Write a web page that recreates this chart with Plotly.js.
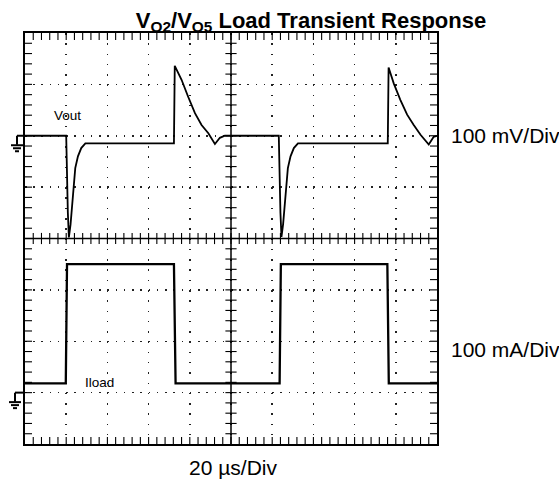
<!DOCTYPE html>
<html><head><meta charset="utf-8">
<script src="https://cdn.plot.ly/plotly-3.0.1.min.js"></script>
<style>html,body{margin:0;padding:0;background:#fff;}#chart{width:559px;height:483px;}</style>
</head><body><div id="chart"></div>
<script>
// ---- data (read from the scope capture) ----
const voutTime = [0, 20.0, 20.8, 21.3, 22.1, 23.3, 24.4, 25.7, 27.3, 29.3, 72.3, 72.7, 76.0, 79.2, 82.5, 85.7, 89.0, 92.2, 94.6, 97.0,
                  123.2, 124.0, 124.5, 125.3, 126.5, 127.6, 128.9, 130.5, 132.5, 176.1, 176.5, 179.0, 182.2, 185.5, 188.7, 192.0, 196.0, 198.4, 200];
const voutMv =   [0, 0, -150, -198, -173, -108, -63, -40, -24, -15, -15, 136, 109, 76, 44, 21, 5, -16, -4, 0,
                  0, -150, -197, -172, -108, -63, -40, -24, -15, -15, 133, 102, 70, 41, 21, 2, -17, -2, 0];
const iloadTime = [0, 19.8, 20.4, 72.3, 73.1, 123.6, 124.2, 175.9, 176.6, 200];
const iloadMa =   [18, 18, 250, 250, 18, 18, 250, 250, 18, 18];

const labels = {
  title: '<b>V<sub>O2</sub>/V<sub>O5</sub> Load Transient Response</b>',
  vout: 'Vout', iload: 'Iload',
  vScale: '100 mV/Div', iScale: '100 mA/Div', tScale: '20 \u00B5s/Div'
};

// ---- scope graticule settings ----
const usPerDiv = 20, mvPerDiv = 100, maPerDiv = 100;
const xDivs = 10, yDivs = 8, subDivs = 5;
const voutGroundDiv = 6, iloadGroundDiv = 1;   // ground marker positions (divisions from bottom)
const xRange = [0, xDivs * usPerDiv];
const vRange = [-voutGroundDiv * mvPerDiv, (yDivs - voutGroundDiv) * mvPerDiv];
const iRange = [-iloadGroundDiv * maPerDiv, (yDivs - iloadGroundDiv) * maPerDiv];

const FONT = 'Liberation Sans, Arial, Helvetica, sans-serif';
const ink = '#000';

// graticule tick marks (centre cross + inside border ticks)
const cx = (xRange[0] + xRange[1]) / 2, cy = (vRange[0] + vRange[1]) / 2;
const colX = [], colY = [], rowX = [], rowY = [];     // ticks along horizontal lines / vertical lines
const bX = [], bY = [], sX = [], sY = [];
for (let k = 1; k < xDivs * subDivs; k++) {
  const t = xRange[0] + k * usPerDiv / subDivs;
  colX.push(t); colY.push(cy);
  bX.push(t, t); bY.push(vRange[0], vRange[1]);
}
for (let k = 1; k < yDivs * subDivs; k++) {
  const v = vRange[0] + k * mvPerDiv / subDivs;
  rowY.push(v); rowX.push(cx);
  sX.push(xRange[0], xRange[1]); sY.push(v, v);
}
function tickTrace(x, y, sym, size) {
  return {x: x, y: y, mode: 'markers', cliponaxis: true,
    marker: {symbol: sym, size: size, color: ink, line: {width: 1.1, color: ink}},
    hoverinfo: 'skip', showlegend: false};
}

const traces = [
  tickTrace(colX, colY, 'line-ns', 8),
  tickTrace(rowX, rowY, 'line-ew', 8),
  tickTrace(bX, bY, 'line-ns', 10),
  tickTrace(sX, sY, 'line-ew', 10),
  {x: voutTime, y: voutMv, mode: 'lines', line: {color: ink, width: 1.8}, name: 'Vout', showlegend: false},
  {x: iloadTime, y: iloadMa, yaxis: 'y2', mode: 'lines', line: {color: ink, width: 2.3}, name: 'Iload', showlegend: false}
];

function ground(yPaper, dx) {
  const base = {type: 'line', xref: 'paper', yref: 'paper', xsizemode: 'pixel', ysizemode: 'pixel',
    xanchor: 0, yanchor: yPaper, line: {color: ink, width: 2}};
  return [
    Object.assign({}, base, {x0: dx, x1: 0, y0: 0, y1: 0}),
    Object.assign({}, base, {x0: dx, x1: dx, y0: 0, y1: -9}),
    Object.assign({}, base, {x0: dx - 6, x1: dx + 6, y0: -9.5, y1: -9.5}),
    Object.assign({}, base, {x0: dx - 4, x1: dx + 4, y0: -12.5, y1: -12.5}),
    Object.assign({}, base, {x0: dx - 2, x1: dx + 2, y0: -15.5, y1: -15.5})
  ];
}
const voutGroundPaper = voutGroundDiv / yDivs, iloadGroundPaper = iloadGroundDiv / yDivs;

const shapes = [
  {type: 'line', xref: 'x', yref: 'paper', x0: cx, x1: cx, y0: 0, y1: 1, line: {color: ink, width: 1.5}},
  {type: 'line', xref: 'paper', yref: 'paper', x0: 0, x1: 1, y0: 0.5, y1: 0.5, line: {color: ink, width: 1.5}}
].concat(ground(voutGroundPaper, -8), ground(iloadGroundPaper, -10));

const axisCommon = {
  showticklabels: false, zeroline: false, showline: true, linewidth: 2, linecolor: ink,
  mirror: true, ticks: '',
  showgrid: true, gridcolor: '#222', gridwidth: 1.5, fixedrange: true
};

const layout = {
  width: 559, height: 483,
  margin: {l: 25, r: 122, t: 33, b: 39},
  paper_bgcolor: '#fff', plot_bgcolor: '#fff',
  font: {family: FONT, color: ink},
  title: {text: labels.title, font: {family: FONT, size: 22, color: ink}, x: 311 / 559, xanchor: 'center', xref: 'container', y: 1 - 20 / 483, yanchor: 'middle', yref: 'container'},
  xaxis: Object.assign({}, axisCommon, {range: xRange, tick0: 0, dtick: usPerDiv, griddash: '1.5px,8.78px'}),
  yaxis: Object.assign({}, axisCommon, {range: vRange, tick0: 0, dtick: mvPerDiv, griddash: '1.5px,6.74px'}),
  yaxis2: {range: iRange, overlaying: 'y', showgrid: false, zeroline: false, showline: false, ticks: '', showticklabels: false, fixedrange: true},
  shapes: shapes,
  annotations: [
    {text: labels.vout, x: 20.7, y: 39, xref: 'x', yref: 'y', xanchor: 'center', yanchor: 'middle', showarrow: false, font: {size: 13.5, family: FONT}},
    {text: labels.iload, x: 36.3, y: 20, xref: 'x', yref: 'y2', xanchor: 'center', yanchor: 'middle', showarrow: false, font: {size: 13.5, family: FONT}},
    {text: labels.vScale, x: 1.03, y: 0, xref: 'paper', yref: 'y', xanchor: 'left', yanchor: 'middle', showarrow: false, font: {size: 21, family: FONT}},
    {text: labels.iScale, x: 1.03, y: 84, xref: 'paper', yref: 'y2', xanchor: 'left', yanchor: 'middle', showarrow: false, font: {size: 21, family: FONT}},
    {text: labels.tScale, x: 0.506, y: -0.056, xref: 'paper', yref: 'paper', xanchor: 'center', yanchor: 'middle', showarrow: false, font: {size: 21, family: FONT}}
  ],
  showlegend: false
};

Plotly.newPlot('chart', traces, layout, {staticPlot: true, displayModeBar: false});
</script>
</body></html>
